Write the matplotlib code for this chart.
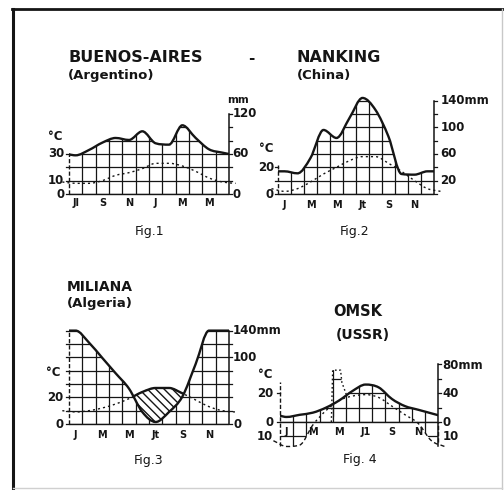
"""Four Gaussen climate diagrams (Buenos-Aires, Nanking, Miliana, Omsk)."""

import numpy as np
import matplotlib
matplotlib.use("Agg")
import matplotlib.pyplot as plt
from matplotlib.path import Path
from matplotlib.patches import PathPatch, Rectangle
from matplotlib.lines import Line2D

# ---- data (mm of rain, degC), months in the order drawn on each diagram ----
ba_labels = ["Jl", "S", "N", "J", "M", "M"]          # starts in July
ba_precip = [58, 66, 77, 84, 81, 94, 76, 74, 103, 84, 67, 62]
ba_temp = [8, 8, 10, 14, 16, 19, 23, 23, 21, 17, 12, 9]

nk_labels = ["J", "M", "M", "Jt", "S", "N"]
nk_precip = [34, 31, 54, 96, 84, 114, 144, 126, 86, 30, 29, 34]
nk_temp = [2, 4, 9, 15, 20, 25, 28, 28, 23, 17, 10, 4]

ml_labels = ["J", "M", "M", "Jt", "S", "N"]
ml_precip = [140, 122, 99, 76, 53, 18, 3, 18, 41, 90, 140, 140]
ml_temp = [9, 10, 12, 15, 19, 24, 27, 27, 23, 18, 13, 10]

om_labels = ["J", "M", "M", "J1", "S", "N"]
om_precip = [7, 10, 13, 20, 30, 43, 52, 48, 32, 22, 17, 12]
om_temp = [-17, -16, -2, 8, 15, 18, 19, 17, 11, 5, -1, -13]
# dotted May peak drawn on the Omsk diagram (month position, mm)
om_peak_x = [3.9, 4.0, 4.6, 4.7, 5.1]
om_peak_y = [0, 72, 72, 55, 35]

W, H = 504, 490
INK = "#151515"
plt.rcParams["font.family"] = ["DejaVu Sans"]
plt.rcParams["hatch.linewidth"] = 1.0
plt.rcParams["hatch.color"] = INK

fig = plt.figure(figsize=(W / 100, H / 100), dpi=100)
fig.patch.set_facecolor("white")


def ftext(x, y, s, **kw):
    kw.setdefault("color", INK)
    fig.text(x / W, 1 - y / H, s, **kw)


def px_axes(x0, x1, y0, ppm, top, bottom):
    ax = fig.add_axes([x0 / W, 1 - bottom / H, (x1 - x0) / W, (bottom - top) / H])
    ax.set_xlim(0, 12)
    ax.set_ylim((y0 - bottom) / ppm, (y0 - top) / ppm)
    ax.axis("off")
    return ax


def wrap(vals):
    xs = np.arange(-0.5, 12.6, 1.0)
    ys = np.array([vals[-1]] + list(vals) + [vals[0]], dtype=float)
    return xs, ys


def tangents(ys):
    # monotone (Fritsch-Carlson) slopes so flats stay flat and nothing overshoots
    d = np.diff(ys)
    n = len(ys)
    m = np.zeros(n)
    m[0], m[-1] = d[0], d[-1]
    for i in range(1, n - 1):
        if d[i - 1] * d[i] > 0:
            m[i] = (d[i - 1] + d[i]) / 2
    for i in range(n - 1):
        if d[i] == 0:
            m[i] = m[i + 1] = 0
            continue
        a, b = m[i] / d[i], m[i + 1] / d[i]
        s = a * a + b * b
        if s > 9:
            tau = 3 / np.sqrt(s)
            m[i], m[i + 1] = tau * a * d[i], tau * b * d[i]
    return m


def smooth_path(xs, ys, base=None):
    m = tangents(ys)
    verts = [(xs[0], ys[0])]
    codes = [Path.MOVETO]
    for i in range(len(xs) - 1):
        h = (xs[i + 1] - xs[i]) / 3
        verts += [(xs[i] + h, ys[i] + m[i] * h),
                  (xs[i + 1] - h, ys[i + 1] - m[i + 1] * h),
                  (xs[i + 1], ys[i + 1])]
        codes += [Path.CURVE4] * 3
    if base is not None:
        verts = [(xs[0], base)] + verts + [(xs[-1], base), (xs[0], base)]
        codes = [Path.MOVETO, Path.LINETO] + codes[1:] + [Path.LINETO, Path.CLOSEPOLY]
    return Path(verts, codes)


def gridded(ax, path, y_lo, y_hi):
    area = PathPatch(path, facecolor="none", edgecolor="none", transform=ax.transData)
    ax.add_patch(area)
    v = ax.vlines(np.arange(1, 12), y_lo, y_hi, colors=INK, lw=0.9)
    v.set_clip_path(area)
    h = ax.hlines(np.arange(y_lo, y_hi + 1, 20), 0, 12, colors=INK, lw=0.9)
    h.set_clip_path(area)
    return area


def diagram(ax, precip, temp, labels, label_y, dry=False):
    x, p = wrap(precip)
    _, t = wrap([2 * v for v in temp])
    gridded(ax, smooth_path(x, p, base=0), 0, max(precip) + 20)
    ax.add_patch(PathPatch(smooth_path(x, p), fill=False, edgecolor=INK, lw=1.7))
    warm = Rectangle((-1, 0), 14, 400, transform=ax.transData)
    tl = PathPatch(smooth_path(x, t), fill=False, edgecolor=INK, lw=1.0,
                   linestyle=(0, (1.5, 2.2)))
    ax.add_patch(tl)
    tl.set_clip_path(warm)
    if dry:
        above = PathPatch(smooth_path(x, p, base=400), transform=ax.transData)
        hatch = PathPatch(smooth_path(x, t, base=0), fill=False, edgecolor=INK,
                          lw=0, hatch="\\\\\\\\")
        ax.add_patch(hatch)
        hatch.set_clip_path(above)
        solid = PathPatch(smooth_path(x, t), fill=False, edgecolor=INK, lw=1.7)
        ax.add_patch(solid)
        solid.set_clip_path(above)
    if min(temp) < 0:
        cold = Rectangle((-1, -400), 14, 400, transform=ax.transData)
        area = PathPatch(smooth_path(x, t, base=0), facecolor="none",
                         edgecolor="none", transform=ax.transData)
        ax.add_patch(area)
        v = ax.vlines(np.arange(1, 12), 2 * min(temp) - 5, 0, colors=INK, lw=0.9)
        v.set_clip_path(area)
        h = ax.hlines([-20], 0, 12, colors=INK, lw=0.9)
        h.set_clip_path(area)
        cl = PathPatch(smooth_path(x, t), fill=False, edgecolor=INK, lw=1.0,
                       linestyle=(0, (3, 2)))
        ax.add_patch(cl)
        cl.set_clip_path(cold)
    ax.hlines(0, 0, 12, colors=INK, lw=1.0)
    for i, s in enumerate(labels):
        ax.text(2 * i + 0.5, label_y, s, ha="center", va="center", fontsize=7,
                fontweight="bold", color=INK, clip_on=False)


def axes_lines(ax, left_top, right_top, left_ticks, right_ticks, bottom=0):
    ax.plot([0, 0], [bottom, left_top], color=INK, lw=1.0, ls=(0, (3, 1.5)),
            clip_on=False)
    ax.plot([12, 12], [bottom, right_top], color=INK, lw=1.1, clip_on=False)
    for v in right_ticks:
        ax.plot([12, 12.22], [v, v], color=INK, lw=0.9, clip_on=False)
    for v in left_ticks:
        ax.plot([-0.2, 0], [v, v], color=INK, lw=0.9, clip_on=False)


def lab(ax, x, v, s, ha, size=8.5):
    ax.text(x, v, s, ha=ha, va="center", fontsize=size, fontweight="bold",
            color=INK, clip_on=False)


# ---- Fig.1 Buenos-Aires ----
ax1 = px_axes(69, 229, 194, 0.667, 84, 234)
diagram(ax1, ba_precip, ba_temp, ba_labels, -13.5)
axes_lines(ax1, 60, 120, [0, 20, 40, 60], range(0, 121, 20))
for v, s in [(0, "0"), (20, "10"), (60, "30")]:
    lab(ax1, -0.35, v, s, "right")
for v, s in [(0, "0"), (60, "60"), (120, "120")]:
    lab(ax1, 12.25, v, s, "left")
ftext(238, 100, "mm", ha="center", va="center", fontsize=7.5, fontweight="bold")
ftext(55, 137, "°C", ha="center", va="center", fontsize=8.5, fontweight="bold")

# ---- Fig.2 Nanking ----
ax2 = px_axes(278, 434, 194, 0.667, 84, 234)
diagram(ax2, nk_precip, nk_temp, nk_labels, -16.5)
axes_lines(ax2, 44, 140, [0, 20, 40], range(0, 141, 20))
for v, s in [(0, "0"), (40, "20")]:
    lab(ax2, -0.3, v, s, "right")
for v, s in [(20, "20"), (60, "60"), (100, "100"), (140, "140mm")]:
    lab(ax2, 12.5, v, s, "left")
ftext(266, 148, "°C", ha="center", va="center", fontsize=8.5, fontweight="bold")

# ---- Fig.3 Miliana ----
ax3 = px_axes(69, 229, 424, 0.667, 314, 464)
diagram(ax3, ml_precip, ml_temp, ml_labels, -16.5, dry=True)
axes_lines(ax3, 140, 140, range(0, 141, 20), range(0, 141, 20))
for v, s in [(0, "0"), (40, "20")]:
    lab(ax3, -0.4, v, s, "right")
for v, s in [(0, "0"), (100, "100"), (140, "140mm")]:
    lab(ax3, 12.3, v, s, "left")
ftext(53, 372, "°C", ha="center", va="center", fontsize=8.5, fontweight="bold")

# ---- Fig.4 Omsk ----
ax4 = px_axes(280, 438, 422, 0.72, 330, 470)
diagram(ax4, om_precip, om_temp, om_labels, -14)
peak = PathPatch(Path(np.column_stack([om_peak_x, om_peak_y])), facecolor="none",
                 edgecolor="none", transform=ax4.transData)
ax4.add_patch(peak)
pv = ax4.vlines([4], 0, 80, colors=INK, lw=0.9)
pv.set_clip_path(peak)
ph = ax4.hlines([60], 3.5, 5.5, colors=INK, lw=0.9)
ph.set_clip_path(peak)
ax4.plot(om_peak_x, om_peak_y, color=INK, lw=1.0, ls=(0, (1.2, 1.8)))
axes_lines(ax4, 56, 80, [0, 40], range(0, 81, 20), bottom=-34)
ax4.plot([12, 12], [-28, 0], color=INK, lw=1.0, ls=(0, (3, 1.5)), clip_on=False)
for v, s in [(-20, "10"), (0, "0"), (40, "20")]:
    lab(ax4, -0.5, v, s, "right")
for v, s in [(-20, "10"), (0, "0"), (40, "40"), (78, "80mm")]:
    lab(ax4, 12.35, v, s, "left")
ftext(265, 375, "°C", ha="center", va="center", fontsize=8.5, fontweight="bold")

# ---- titles and captions ----
ftext(68, 57, "BUENOS-AIRES", ha="left", va="center", fontsize=11.5, fontweight="bold")
ftext(68, 75, "(Argentino)", ha="left", va="center", fontsize=9.5, fontweight="bold")
ftext(251, 58, "-", ha="center", va="center", fontsize=11, fontweight="bold")
ftext(297, 57, "NANKING", ha="left", va="center", fontsize=11.5, fontweight="bold")
ftext(297, 75, "(China)", ha="left", va="center", fontsize=9.5, fontweight="bold")
ftext(67, 287, "MILIANA", ha="left", va="center", fontsize=10, fontweight="bold")
ftext(67, 303, "(Algeria)", ha="left", va="center", fontsize=9.5, fontweight="bold")
ftext(358, 312, "OMSK", ha="center", va="center", fontsize=10.5, fontweight="bold")
ftext(363, 335, "(USSR)", ha="center", va="center", fontsize=10, fontweight="bold")
ftext(150, 231, "Fig.1", ha="center", va="center", fontsize=9)
ftext(355, 231, "Fig.2", ha="center", va="center", fontsize=9)
ftext(149, 460, "Fig.3", ha="center", va="center", fontsize=9)
ftext(360, 459, "Fig. 4", ha="center", va="center", fontsize=9)

# ---- frame ----
fig.add_artist(Line2D([13 / W, 13 / W], [1 - 9 / H, 0], color=INK, lw=2.2))
fig.add_artist(Line2D([12 / W, 1], [1 - 9 / H, 1 - 9 / H], color=INK, lw=2.0))
fig.add_artist(Line2D([502 / W, 502 / W], [1 - 9 / H, 0], color="#c8c8c8", lw=1.0))
fig.add_artist(Line2D([13 / W, 502 / W], [1 - 488 / H] * 2, color="#d0d0d0", lw=1.0))

fig.savefig("out.png", dpi=100, facecolor="white")
